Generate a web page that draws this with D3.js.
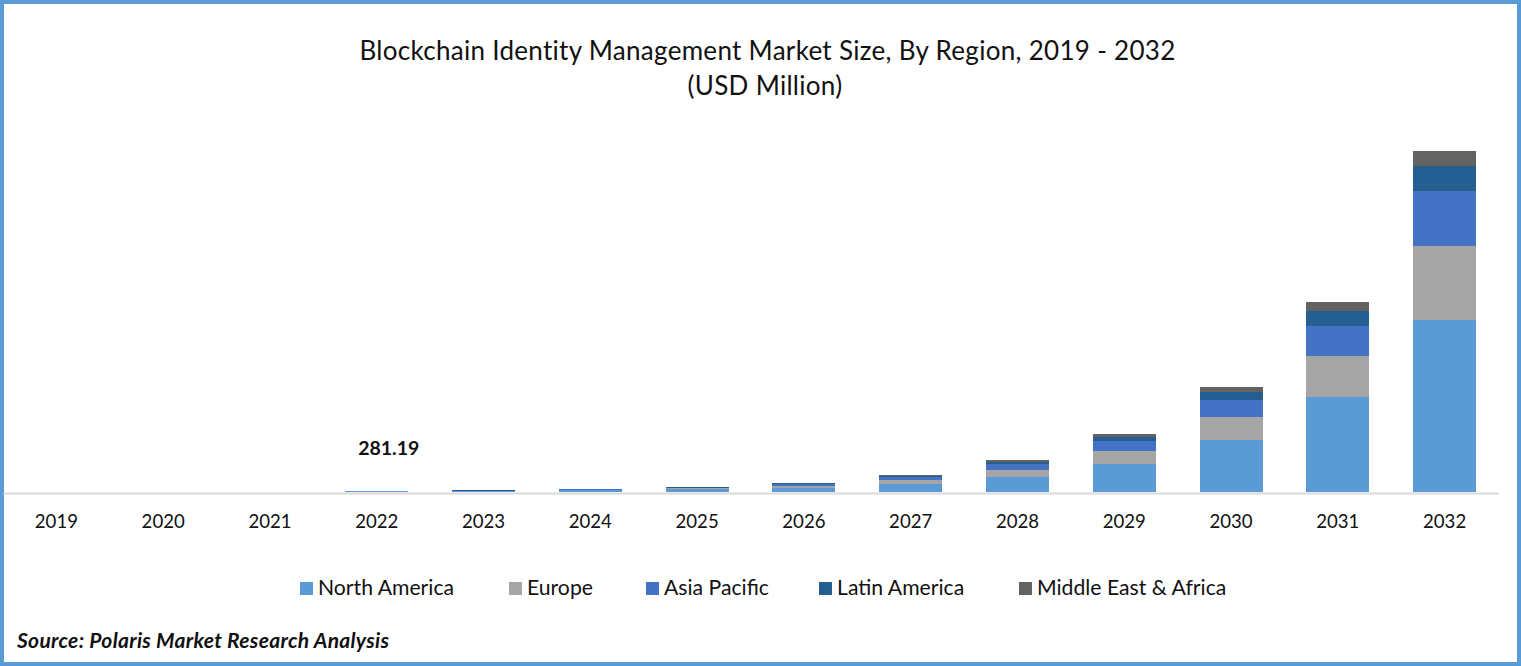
<!DOCTYPE html>
<html><head><meta charset="utf-8">
<script src="https://cdn.jsdelivr.net/npm/d3@7"></script>
<style>html,body{margin:0;padding:0;background:#fff;overflow:hidden}svg{display:block}text{font-family:Lato,"Noto Sans",sans-serif;fill:#111}</style>
</head><body><svg id="c" width="1521" height="666"></svg>
<script>
const years=["2019","2020","2021","2022","2023","2024","2025","2026","2027","2028","2029","2030","2031","2032"];
const regions=["North America","Europe","Asia Pacific","Latin America","Middle East & Africa"];
const colors=["#5B9BD5","#A5A5A5","#4472C4","#255E91","#636363"];
const northAmerica=[0,0,0,120,150,300,480,800,1560,2900,5400,9900,18100,32700];
const europe=[0,0,0,60,70,120,190,380,760,1330,2470,4370,7800,14060];
const asiaPacific=[0,0,0,50,60,90,160,340,570,1140,1900,3230,5700,10450];
const latinAmerica=[0,0,0,30,30,50,80,120,190,380,760,1520,2850,4750];
const middleEast=[0,0,0,21.19,30,40,60,80,190,380,570,950,1710,2850];
const series=[northAmerica,europe,asiaPacific,latinAmerica,middleEast];
const note="281.19",noteYear="2022";
const title=["Blockchain Identity Management Market Size, By Region, 2019 - 2032","(USD Million)"];
const source="Source: Polaris Market Research Analysis";

const svg=d3.select("#c");
svg.append("rect").attr("x",2).attr("y",2).attr("width",1517).attr("height",662).attr("fill","#fff").attr("stroke","#5B9BD5").attr("stroke-width",4);
const x=d3.scaleBand().domain(years).range([3,1498]).paddingInner(0.41).paddingOuter(0.205);
const y=d3.scaleLinear().domain([0,64810]).range([492,151]);
const rows=years.map((yr,i)=>{const r={year:yr};regions.forEach((n,k)=>r[n]=series[k][i]);return r;});
const stacked=d3.stack().keys(regions)(rows);
svg.append("g").attr("shape-rendering","crispEdges").selectAll("g").data(stacked).join("g").attr("fill",(d,i)=>colors[i])
 .selectAll("rect").data(d=>d).join("rect")
 .attr("x",d=>x(d.data.year)).attr("width",x.bandwidth())
 .attr("y",d=>y(d[1])).attr("height",d=>y(d[0])-y(d[1]));
const ax=svg.append("g").attr("transform","translate(0,493)").call(d3.axisBottom(x).tickSize(0).tickPadding(22));
ax.select(".domain").attr("stroke","#D9D9D9").attr("stroke-width",2);
ax.selectAll("text").style("font-size","18.6px").style("font-family","Lato").attr("fill","#111");
svg.append("text").attr("x",x(noteYear)+x.bandwidth()/2+12).attr("y",455).attr("text-anchor","middle").attr("font-size",19.5).attr("font-weight",700).text(note);
title.forEach((t,i)=>svg.append("text").attr("x",i?765:767.5).attr("y",i?95:60).attr("text-anchor","middle").attr("font-size",26).attr("letter-spacing",0.3).text(t));
const legendX=[300,509,646,819,1019];
const lg=svg.append("g").selectAll("g").data(regions).join("g").attr("transform",(d,i)=>`translate(${legendX[i]},582)`);
lg.append("rect").attr("width",13).attr("height",13).attr("fill",(d,i)=>colors[i]);
lg.append("text").attr("x",18).attr("y",13).attr("font-size",21.2).text(d=>d);
svg.append("text").attr("x",17).attr("y",648).attr("font-size",21).attr("font-weight",700).attr("font-style","italic").attr("letter-spacing",0.3).text(source);
</script></body></html>
